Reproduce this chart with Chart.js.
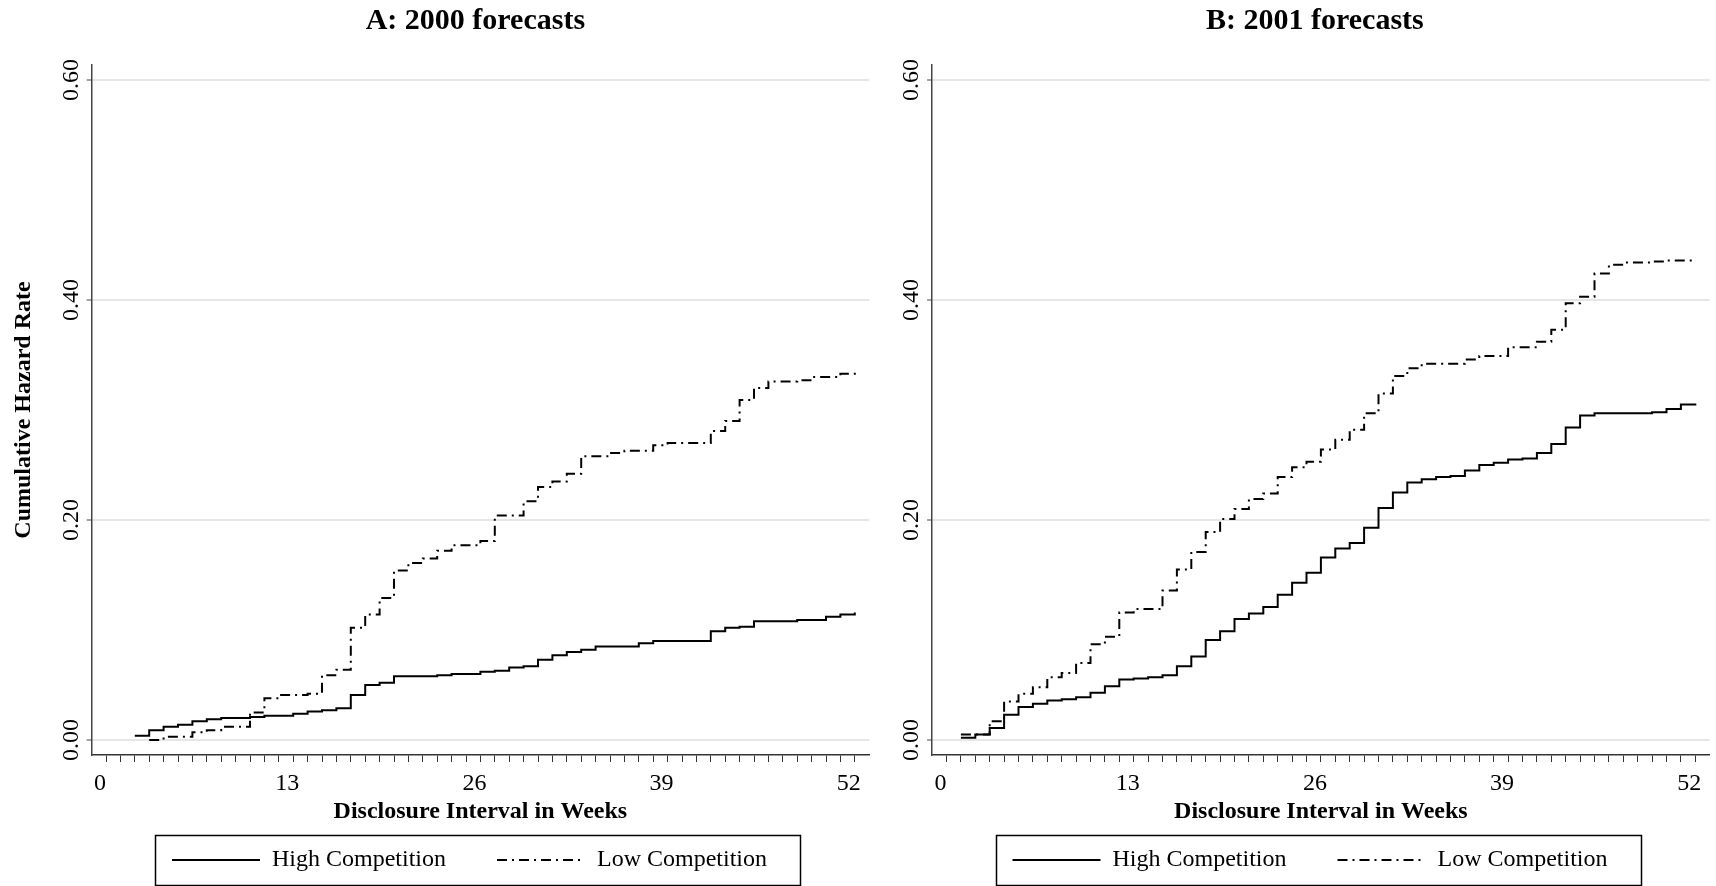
<!DOCTYPE html>
<html><head><meta charset="utf-8">
<script src="https://cdn.jsdelivr.net/npm/chart.js@4/dist/chart.umd.min.js"></script>
<style>
html,body{margin:0;padding:0;background:#fff;}
body{width:1716px;height:886px;position:relative;overflow:hidden;}
canvas{position:absolute;top:0;}
#cA{left:0;width:880px;height:886px;}
#cB{left:858px;width:858px;height:886px;}
</style></head><body>
<canvas id="cA" width="880" height="886"></canvas>
<canvas id="cB" width="858" height="886"></canvas>
<script>
// ---- text ----
const panelTitles = ['A: 2000 forecasts', 'B: 2001 forecasts'];
const seriesNames = ['High Competition', 'Low Competition'];
const xTitle = 'Disclosure Interval in Weeks';
const yTitle = 'Cumulative Hazard Rate';
const xTickValues = [0, 13, 26, 39, 52];
const yTickValues = [0, 0.2, 0.4, 0.6];

// ---- Panel A: 2000 forecasts ----
const weeksHighA = [2,3,4,5,6,7,8,10,11,13,14,15,16,17,18,19,20,23,24,26,27,28,29,30,31,32,33,34,37,38,42,43,44,45,48,50,51,52];
const highA      = [0.004,0.009,0.012,0.014,0.017,0.019,0.020,0.021,0.022,0.024,0.026,0.027,0.029,0.041,0.050,0.052,0.058,0.059,0.060,0.062,0.063,0.066,0.067,0.073,0.077,0.080,0.082,0.085,0.088,0.090,0.099,0.102,0.103,0.108,0.109,0.112,0.114,0.116];
const weeksLowA  = [3,4,6,7,8,10,11,12,14,15,16,17,18,19,20,21,22,23,24,26,27,29,30,31,32,33,35,36,38,39,42,43,44,45,46,48,49,51,52];
const lowA       = [0.000,0.003,0.007,0.009,0.012,0.025,0.038,0.041,0.042,0.059,0.064,0.102,0.114,0.129,0.154,0.161,0.165,0.172,0.177,0.181,0.204,0.217,0.230,0.235,0.242,0.258,0.261,0.263,0.268,0.270,0.281,0.290,0.309,0.320,0.326,0.327,0.330,0.333,0.336];

// ---- Panel B: 2001 forecasts ----
const weeksHighB = [1,2,3,4,5,6,7,8,9,10,11,12,13,14,15,16,17,18,19,20,21,22,23,24,25,26,27,28,29,30,31,32,33,34,35,36,37,38,39,40,41,42,43,44,45,49,50,51,52];
const highB      = [0.002,0.005,0.011,0.023,0.030,0.033,0.036,0.037,0.039,0.043,0.049,0.055,0.056,0.057,0.059,0.067,0.076,0.091,0.099,0.110,0.115,0.121,0.132,0.143,0.152,0.166,0.174,0.179,0.193,0.211,0.225,0.234,0.237,0.239,0.240,0.245,0.250,0.252,0.255,0.256,0.261,0.269,0.284,0.295,0.297,0.298,0.301,0.305,0.306];
const weeksLowB  = [1,3,4,5,6,7,8,9,10,11,12,13,15,16,17,18,19,20,21,22,23,24,25,26,27,28,29,30,31,32,33,36,37,39,41,42,43,44,45,46,47,49,50,52];
const lowB       = [0.005,0.017,0.035,0.042,0.048,0.057,0.061,0.070,0.087,0.094,0.116,0.119,0.136,0.155,0.171,0.189,0.201,0.210,0.219,0.224,0.239,0.248,0.253,0.264,0.273,0.282,0.297,0.315,0.331,0.338,0.342,0.346,0.349,0.357,0.362,0.373,0.397,0.403,0.424,0.432,0.434,0.435,0.436,0.437];

const weekTicks = Array.from({length: 53}, (_, i) => i);

Chart.defaults.font.family = "'Liberation Serif', 'Times New Roman', serif";
Chart.defaults.color = '#000';

// shift legend / title horizontally relative to the plot area centre
const boxShift = {
  id: 'boxShift',
  afterLayout(chart, args, opts) {
    const ca = chart.chartArea;
    const mid = (ca.left + ca.right) / 2;
    const lg = chart.legend;
    if (lg) {
      const half = (lg.right - lg.left) / 2;
      lg.left = mid + opts.legendDx - half;
      lg.right = mid + opts.legendDx + half;
    }
    const tb = chart.titleBlock;
    if (tb) {
      const half = (tb.right - tb.left) / 2;
      tb.left = mid + opts.titleDx - half;
      tb.right = mid + opts.titleDx + half;
    }
  }
};

const legendFrame = {
  id: 'legendFrame',
  afterDraw(chart) {
    const lg = chart.legend;
    if (!lg || !lg.legendHitBoxes || !lg.legendHitBoxes.length) return;
    const hb = lg.legendHitBoxes;
    const first = hb[0], last = hb[hb.length - 1];
    const cy = first.top + first.height / 2;
    const x0 = first.left - 17, x1 = last.left + last.width + 33;
    const ctx = chart.ctx;
    ctx.save();
    ctx.strokeStyle = '#000';
    ctx.lineWidth = 1.5;
    ctx.setLineDash([]);
    ctx.strokeRect(Math.round(x0) + 0.5, Math.round(cy - 25) + 0.5, Math.round(x1 - x0), 50);
    ctx.restore();
  }
};

function toPts(w, v) { return w.map((x, i) => ({x: x, y: v[i]})); }

function legendLabels(chart) {
  const items = Chart.defaults.plugins.legend.labels.generateLabels(chart);
  items.forEach(it => {
    const ds = chart.data.datasets[it.datasetIndex];
    it.lineDash = ds.borderDash || [];
    it.lineWidth = ds.borderWidth;
    it.strokeStyle = ds.borderColor;
    it.fillStyle = 'rgba(0,0,0,0)';
    it.pointStyle = 'line';
  });
  return items;
}

function makeChart(id, cfg) {
  return new Chart(document.getElementById(id), {
    type: 'line',
    data: {
      datasets: [
        { label: seriesNames[0], data: toPts(cfg.wh, cfg.h), borderColor: '#000', backgroundColor: '#000',
          borderWidth: 2, stepped: 'before', pointRadius: 0, pointStyle: 'line', fill: false, tension: 0 },
        { label: seriesNames[1], data: toPts(cfg.wl, cfg.l), borderColor: '#000', backgroundColor: '#000',
          borderWidth: 2, borderDash: [10, 5, 2, 5], stepped: 'before', pointRadius: 0, pointStyle: 'line', fill: false, tension: 0 }
      ]
    },
    options: {
      responsive: false, animation: false, devicePixelRatio: 1,
      layout: { padding: { left: cfg.padL, right: cfg.padR, top: 0, bottom: 4 } },
      plugins: {
        boxShift: { legendDx: -10.9, titleDx: cfg.titleDx },
        title: { display: true, text: cfg.title, fullSize: false, color: '#000',
                 font: { size: 30, weight: 'bold' }, padding: { top: 3, bottom: 26 } },
        legend: { position: 'bottom',
                  labels: { usePointStyle: true, pointStyle: 'line', pointStyleWidth: 88, boxHeight: 24,
                            font: { size: 24 }, color: '#000', padding: 51, generateLabels: legendLabels } },
        tooltip: { enabled: false }
      },
      scales: {
        x: {
          type: 'linear', min: -1, max: 53,
          afterBuildTicks: s => { s.ticks = weekTicks.map(v => ({value: v})); },
          afterFit: s => { s.height = 42; },
          ticks: { autoSkip: false, minRotation: 0, maxRotation: 0, labelOffset: -6, padding: 7,
                   font: { size: 24 }, color: '#000',
                   callback: v => xTickValues.includes(v) ? String(v) : '' },
          grid: { drawOnChartArea: false, drawTicks: true, tickLength: 7, tickColor: '#333', tickWidth: 1 },
          border: { display: true, color: '#333', width: 1.5 },
          title: { display: true, text: xTitle, color: '#000', font: { size: 24, weight: 'bold' },
                   padding: { top: 0, bottom: -28.9 } }
        },
        y: {
          type: 'linear', min: -0.0136, max: 0.6136,
          afterBuildTicks: s => { s.ticks = yTickValues.map(v => ({value: v})); },
          afterFit: s => { s.width = cfg.yWidth; },
          ticks: { minRotation: 90, maxRotation: 90, crossAlign: 'center', padding: -6.1,
                   font: { size: 24 }, color: '#000', callback: v => v.toFixed(2) },
          grid: { color: '#e6e6e6', lineWidth: 2, drawTicks: true, tickLength: 5, tickColor: '#444', tickWidth: 1 },
          border: { display: true, color: '#444', width: 1.5 },
          title: { display: cfg.showYTitle, text: yTitle, color: '#000', font: { size: 24, weight: 'bold' },
                   padding: { top: cfg.yTitlePad, bottom: 0 } }
        }
      }
    },
    plugins: [boxShift, legendFrame]
  });
}

makeChart('cA', { title: panelTitles[0], wh: weeksHighA, h: highA, wl: weeksLowA, l: lowA,
                  padL: 6, yWidth: 85.6, padR: 10.8, showYTitle: true, yTitlePad: 3.6, titleDx: -5 });
makeChart('cB', { title: panelTitles[1], wh: weeksHighB, h: highB, wl: weeksLowB, l: lowB,
                  padL: 6, yWidth: 68.1, padR: 6.3, showYTitle: false, yTitlePad: 0, titleDx: -6 });
</script>
</body></html>
